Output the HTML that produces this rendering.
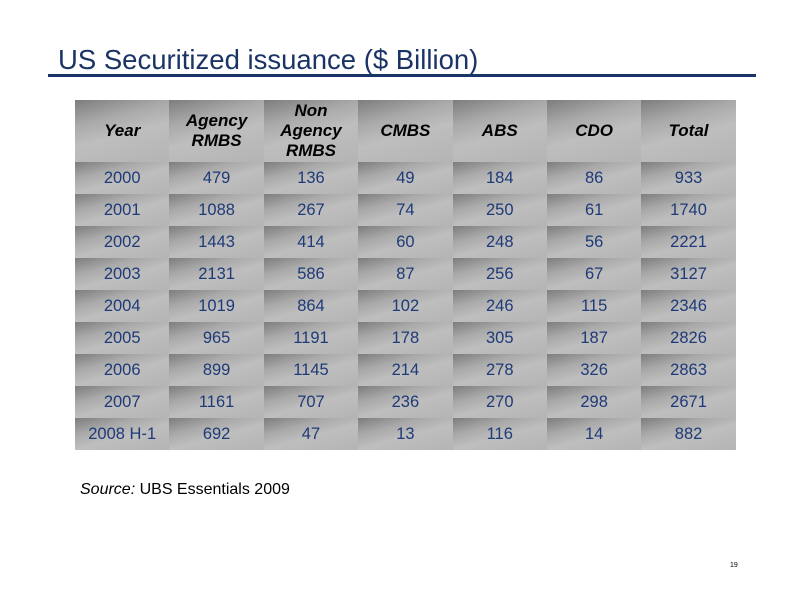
<!DOCTYPE html>
<html><head><meta charset="utf-8"><style>
body{margin:0;width:792px;height:594px;background:#fff;position:relative;overflow:hidden;font-family:"Liberation Sans",sans-serif}
#title{position:absolute;left:58px;top:44px;font-size:27.5px;color:#1b3466;white-space:nowrap}
#rule{position:absolute;left:48px;top:74px;width:708px;height:3px;background:#1b3466}
table{position:absolute;left:75px;top:100px;border-collapse:collapse;table-layout:fixed}
td{width:94.4px;height:32px;padding:0;text-align:center;font-size:16.5px;color:#1e3a78;
background:linear-gradient(165deg,#7d7d7d 0%,#a9a9a9 30%,#bebebe 55%,#b4b4b4 100%)}
tr.h td{height:62px;color:#000;font-weight:bold;font-style:italic;font-size:17px;line-height:20px}
#src{position:absolute;left:80px;top:481px;font-size:16px;color:#000}
#pg{position:absolute;left:730px;top:562px;font-size:7px;color:#000}
</style></head><body>
<div id="title">US Securitized issuance ($ Billion)</div>
<div id="rule"></div>
<table>
<tr class="h"><td>Year</td><td>Agency<br>RMBS</td><td>Non<br>Agency<br>RMBS</td><td>CMBS</td><td>ABS</td><td>CDO</td><td>Total</td></tr>
<tr><td>2000</td><td>479</td><td>136</td><td>49</td><td>184</td><td>86</td><td>933</td></tr>
<tr><td>2001</td><td>1088</td><td>267</td><td>74</td><td>250</td><td>61</td><td>1740</td></tr>
<tr><td>2002</td><td>1443</td><td>414</td><td>60</td><td>248</td><td>56</td><td>2221</td></tr>
<tr><td>2003</td><td>2131</td><td>586</td><td>87</td><td>256</td><td>67</td><td>3127</td></tr>
<tr><td>2004</td><td>1019</td><td>864</td><td>102</td><td>246</td><td>115</td><td>2346</td></tr>
<tr><td>2005</td><td>965</td><td>1191</td><td>178</td><td>305</td><td>187</td><td>2826</td></tr>
<tr><td>2006</td><td>899</td><td>1145</td><td>214</td><td>278</td><td>326</td><td>2863</td></tr>
<tr><td>2007</td><td>1161</td><td>707</td><td>236</td><td>270</td><td>298</td><td>2671</td></tr>
<tr><td>2008 H-1</td><td>692</td><td>47</td><td>13</td><td>116</td><td>14</td><td>882</td></tr>
</table>
<div id="src"><i>Source:</i> UBS Essentials 2009</div>
<div id="pg">19</div>
</body></html>
